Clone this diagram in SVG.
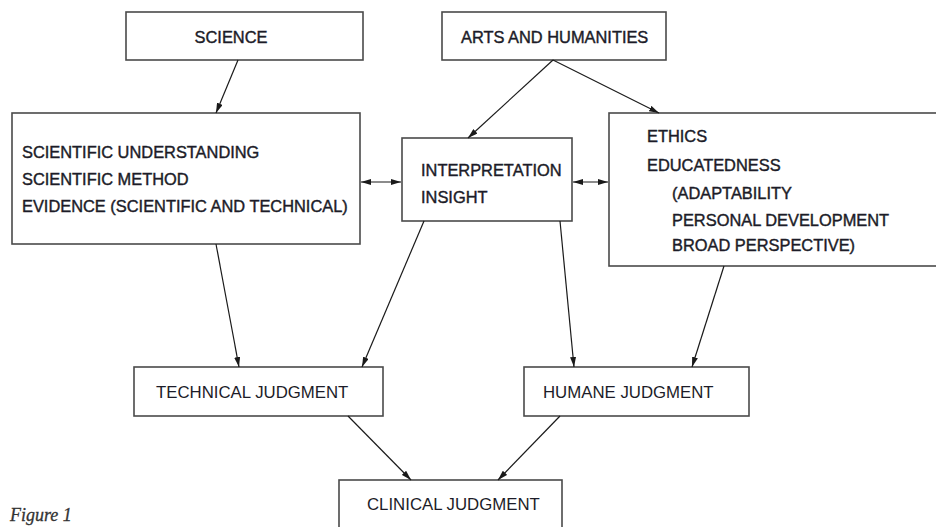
<svg xmlns="http://www.w3.org/2000/svg" width="936" height="527" viewBox="0 0 936 527">
  <defs>
    <marker id="ah" viewBox="0 0 10 6" refX="10" refY="3" markerWidth="10" markerHeight="6" markerUnits="userSpaceOnUse" orient="auto-start-reverse">
      <path d="M0,0 L10,3 L0,6 Z" fill="#1a1a1a"/>
    </marker>
  </defs>
  <style>
    rect.box { fill: #fff; stroke: #4a4a4a; stroke-width: 1.6; }
    text { font-family: "Liberation Sans", Arial, sans-serif; fill: #1c1c28; }
    .up { font-size: 16.4px; stroke: #1c1c28; stroke-width: 0.4; }
    .lo { font-size: 16.8px; }
    .conn line { stroke: #1a1a1a; stroke-width: 1.2; fill: none; }
    .cap { font-family: "Liberation Serif", "Times New Roman", serif; font-style: italic; font-size: 18px; fill: #333; stroke: #333; stroke-width: 0.3; }
  </style>
  <rect width="936" height="527" fill="#fff"/>

  <g id="science">
    <rect class="box" x="126" y="12" width="237" height="48"/>
    <text class="up" x="231" y="43" text-anchor="middle">SCIENCE</text>
  </g>
  <g id="arts">
    <rect class="box" x="442" y="12" width="224" height="48"/>
    <text class="up" x="461" y="43">ARTS AND HUMANITIES</text>
  </g>
  <g id="scientific">
    <rect class="box" x="12" y="113" width="348" height="131"/>
    <text class="up" x="22" y="158">SCIENTIFIC UNDERSTANDING</text>
    <text class="up" x="22" y="185">SCIENTIFIC METHOD</text>
    <text class="up" x="22" y="212">EVIDENCE (SCIENTIFIC AND TECHNICAL)</text>
  </g>
  <g id="interpretation">
    <rect class="box" x="402" y="138" width="170" height="83"/>
    <text class="up" x="421" y="176">INTERPRETATION</text>
    <text class="up" x="421" y="203">INSIGHT</text>
  </g>
  <g id="ethics">
    <rect class="box" x="609" y="113" width="340" height="153"/>
    <text class="up" x="647" y="142">ETHICS</text>
    <text class="up" x="647" y="171">EDUCATEDNESS</text>
    <text class="up" x="672" y="199">(ADAPTABILITY</text>
    <text class="up" x="672" y="226">PERSONAL DEVELOPMENT</text>
    <text class="up" x="672" y="251">BROAD PERSPECTIVE)</text>
  </g>
  <g id="technical">
    <rect class="box" x="134" y="367" width="249" height="49"/>
    <text class="lo" x="156" y="398">TECHNICAL JUDGMENT</text>
  </g>
  <g id="humane">
    <rect class="box" x="524" y="367" width="225" height="49"/>
    <text class="lo" x="543" y="398">HUMANE JUDGMENT</text>
  </g>
  <g id="clinical">
    <rect class="box" x="339" y="480" width="223" height="60"/>
    <text class="lo" x="367" y="510">CLINICAL JUDGMENT</text>
  </g>

  <g id="connectors" class="conn">
    <line x1="238" y1="60" x2="216" y2="113" marker-end="url(#ah)"/>
    <line x1="553" y1="60" x2="468" y2="138" marker-end="url(#ah)"/>
    <line x1="553" y1="60" x2="659" y2="113" marker-end="url(#ah)"/>
    <line x1="361" y1="182" x2="401" y2="182" marker-start="url(#ah)" marker-end="url(#ah)"/>
    <line x1="573" y1="182" x2="608" y2="182" marker-start="url(#ah)" marker-end="url(#ah)"/>
    <line x1="216" y1="244" x2="239" y2="367" marker-end="url(#ah)"/>
    <line x1="424" y1="221" x2="362" y2="367" marker-end="url(#ah)"/>
    <line x1="560" y1="221" x2="574" y2="367" marker-end="url(#ah)"/>
    <line x1="724" y1="266" x2="692" y2="367" marker-end="url(#ah)"/>
    <line x1="348" y1="416" x2="411" y2="480" marker-end="url(#ah)"/>
    <line x1="560" y1="416" x2="498" y2="480" marker-end="url(#ah)"/>
  </g>

  <text class="cap" x="10" y="521">Figure 1</text>
</svg>
